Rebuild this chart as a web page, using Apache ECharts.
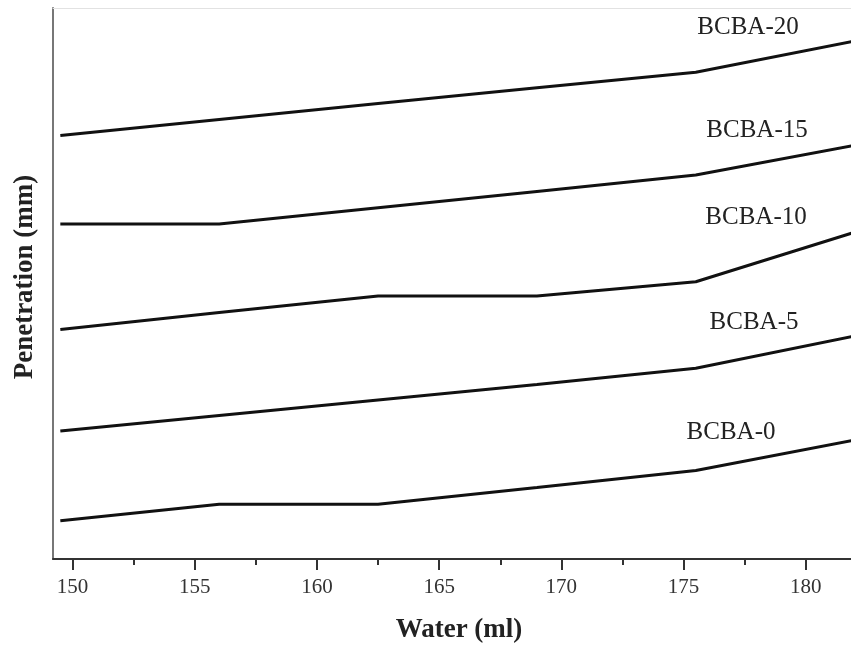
<!DOCTYPE html>
<html>
<head>
<meta charset="utf-8">
<script src="https://cdn.jsdelivr.net/npm/echarts@6/dist/echarts.min.js"></script>
<style>
  html, body { margin: 0; padding: 0; background: #fff; }
  #chart { width: 851px; height: 645px; }
</style>
</head>
<body>
<div id="chart"></div>
<script>
// Water content (ml) at which penetration was measured
const water = [149.5, 156, 162.5, 169, 175.5, 182];

// Penetration curves, one per binder blend (offset for display)
const bcba0  = [3.83, 5.47, 5.47, 7.15, 8.85, 11.9];
const bcba5  = [12.8, 14.35, 15.9, 17.45, 19.07, 22.3];
const bcba10 = [22.96, 24.65, 26.3, 26.3, 27.73, 32.68];
const bcba15 = [33.5, 33.5, 35.12, 36.76, 38.4, 41.37];
const bcba20 = [42.35, 43.96, 45.54, 47.13, 48.68, 51.8];

const seriesNames = ['BCBA-0', 'BCBA-5', 'BCBA-10', 'BCBA-15', 'BCBA-20'];
const seriesValues = [bcba0, bcba5, bcba10, bcba15, bcba20];

// Axis tick values
const majorTicks = [150, 155, 160, 165, 170, 175, 180];
const minorTicks = [152.5, 157.5, 162.5, 167.5, 172.5, 177.5];

const X_MIN = 149.2, X_MAX = 181.85, Y_MIN = 0, Y_MAX = 55.1;
const FONT = '"Liberation Serif", "Times New Roman", serif';

// Curve labels placed beside the right end of each curve
const labelSpots = [
  { text: 'BCBA-0',  x: 731, y: 432 },
  { text: 'BCBA-5',  x: 754, y: 322 },
  { text: 'BCBA-10', x: 756, y: 217 },
  { text: 'BCBA-15', x: 757, y: 130 },
  { text: 'BCBA-20', x: 748, y: 27 }
];

const chart = echarts.init(document.getElementById('chart'), null, { renderer: 'canvas' });

const option = {
  animation: false,
  backgroundColor: '#fff',
  grid: { left: 53, right: 0, top: 8, bottom: 86, containLabel: false },
  xAxis: [
    {
      type: 'value', min: X_MIN, max: X_MAX, position: 'bottom',
      axisLine: { show: true, lineStyle: { color: '#333', width: 2 } },
      axisTick: { show: true, customValues: majorTicks, length: 11, inside: false,
                  lineStyle: { color: '#333', width: 2 } },
      axisLabel: { show: true, customValues: majorTicks, margin: 18,
                   fontFamily: FONT, fontSize: 21, color: '#333' },
      splitLine: { show: false }
    },
    {
      type: 'value', min: X_MIN, max: X_MAX, position: 'bottom',
      axisLine: { show: false },
      axisTick: { show: true, customValues: minorTicks, length: 6,
                  lineStyle: { color: '#333', width: 2 } },
      axisLabel: { show: false },
      splitLine: { show: false }
    },
    {
      type: 'value', min: X_MIN, max: X_MAX, position: 'top',
      axisLine: { show: true, lineStyle: { color: '#e2e2e2', width: 1 } },
      axisTick: { show: false },
      axisLabel: { show: false },
      splitLine: { show: false }
    }
  ],
  yAxis: {
    type: 'value', min: Y_MIN, max: Y_MAX,
    axisLine: { show: true, lineStyle: { color: '#777', width: 2 } },
    axisTick: { show: false },
    axisLabel: { show: false },
    splitLine: { show: false }
  },
  series: seriesNames.map((name, i) => ({
    name: name,
    type: 'line',
    xAxisIndex: 0,
    showSymbol: false,
    clip: true,
    lineStyle: { color: '#111', width: 3 },
    data: water.map((w, j) => [w, seriesValues[i][j]])
  })),
  graphic: [
    {
      type: 'text', x: 459, y: 630,
      style: { text: 'Water (ml)', font: 'bold 27px ' + FONT, fill: '#222',
               textAlign: 'center', textVerticalAlign: 'middle' }
    },
    {
      type: 'text', x: 25, y: 277, rotation: Math.PI / 2,
      style: { text: 'Penetration (mm)', font: 'bold 27px ' + FONT, fill: '#222',
               textAlign: 'center', textVerticalAlign: 'middle' }
    }
  ].concat(labelSpots.map(l => ({
    type: 'text', x: l.x, y: l.y,
    style: { text: l.text, font: '25px ' + FONT, fill: '#222',
             textAlign: 'center', textVerticalAlign: 'middle' }
  })))
};

chart.setOption(option);
</script>
</body>
</html>
